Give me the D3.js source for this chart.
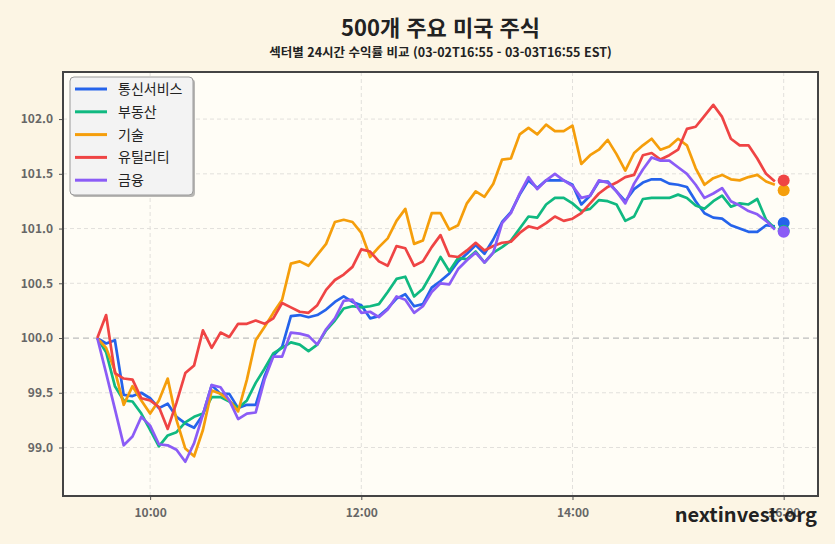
<!DOCTYPE html>
<html lang="ko">
<head>
<meta charset="UTF-8">
<title>500개 주요 미국 주식</title>
<script src="https://cdnjs.cloudflare.com/ajax/libs/d3/7.8.5/d3.min.js"></script>
<style>
  html, body { margin: 0; padding: 0; background: #fcf5e4; }
  svg { display: block; font-family: "Noto Sans CJK KR", "Noto Sans", sans-serif; }
</style>
</head>
<body>
<div id="chart"></div>
<script>
// 섹터 이름과 색상
const sectors = ['통신서비스', '부동산', '기술', '유틸리티', '금융']
const colors = ['#2563eb', '#10b981', '#f59e0b', '#ef4444', '#8b5cf6']

// 5분 간격, 09:30 ~ 15:55 (78개), 16:00 종가는 점으로 표시
const startTime = '09:30'
const stepMinutes = 5
const closeTime = '16:00'

const telecom = [
  100.00, 99.95, 99.98, 99.48, 99.47, 99.50, 99.45, 99.36, 99.40, 99.28,
  99.22, 99.18, 99.30, 99.57, 99.49, 99.49, 99.36, 99.39, 99.39, 99.65,
  99.84, 99.92, 100.20, 100.21, 100.19, 100.21, 100.26, 100.33, 100.38, 100.33,
  100.30, 100.18, 100.20, 100.27, 100.36, 100.40, 100.29, 100.31, 100.46, 100.52,
  100.59, 100.70, 100.77, 100.85, 100.77, 100.90, 101.06, 101.15, 101.31, 101.44,
  101.37, 101.44, 101.44, 101.44, 101.40, 101.22, 101.30, 101.43, 101.43, 101.34,
  101.25, 101.36, 101.42, 101.45, 101.45, 101.41, 101.40, 101.38, 101.25, 101.14,
  101.10, 101.09, 101.03, 101.00, 100.97, 100.97, 101.03, 101.02
]
const realEstate = [
  100.00, 99.87, 99.56, 99.43, 99.42, 99.31, 99.16, 99.01, 99.11, 99.14,
  99.23, 99.28, 99.31, 99.46, 99.46, 99.42, 99.36, 99.43, 99.59, 99.72,
  99.86, 99.91, 99.96, 99.94, 99.88, 99.94, 100.07, 100.16, 100.27, 100.29,
  100.28, 100.29, 100.31, 100.42, 100.54, 100.56, 100.38, 100.45, 100.59, 100.74,
  100.61, 100.73, 100.72, 100.79, 100.69, 100.78, 100.83, 100.89, 101.00, 101.11,
  101.10, 101.22, 101.28, 101.28, 101.23, 101.16, 101.18, 101.26, 101.25, 101.22,
  101.07, 101.11, 101.27, 101.28, 101.28, 101.28, 101.31, 101.28, 101.21, 101.18,
  101.25, 101.30, 101.20, 101.23, 101.22, 101.27, 101.08, 101.00
]
const tech = [
  100.00, 99.91, 99.70, 99.39, 99.56, 99.43, 99.31, 99.43, 99.63, 99.25,
  98.99, 98.92, 99.16, 99.52, 99.49, 99.43, 99.33, 99.62, 99.98, 100.10,
  100.23, 100.35, 100.68, 100.70, 100.66, 100.76, 100.86, 101.06, 101.08, 101.06,
  100.96, 100.74, 100.83, 100.91, 101.07, 101.18, 100.86, 100.89, 101.14, 101.14,
  100.99, 101.03, 101.23, 101.34, 101.29, 101.41, 101.63, 101.64, 101.86, 101.92,
  101.86, 101.95, 101.89, 101.89, 101.94, 101.59, 101.67, 101.72, 101.81, 101.68,
  101.53, 101.69, 101.76, 101.82, 101.72, 101.75, 101.82, 101.76, 101.55, 101.40,
  101.46, 101.49, 101.45, 101.44, 101.47, 101.49, 101.43, 101.40
]
const utilities = [
  100.00, 100.21, 99.68, 99.63, 99.62, 99.45, 99.43, 99.37, 99.17, 99.41,
  99.68, 99.75, 100.07, 99.91, 100.05, 100.01, 100.13, 100.13, 100.16, 100.13,
  100.18, 100.32, 100.28, 100.24, 100.23, 100.30, 100.44, 100.53, 100.58, 100.65,
  100.81, 100.79, 100.70, 100.66, 100.84, 100.82, 100.66, 100.70, 100.83, 100.94,
  100.75, 100.74, 100.80, 100.87, 100.80, 100.84, 100.87, 100.88, 100.96, 101.02,
  101.00, 101.05, 101.11, 101.07, 101.09, 101.14, 101.23, 101.32, 101.38, 101.42,
  101.47, 101.49, 101.67, 101.69, 101.63, 101.67, 101.72, 101.91, 101.93, 102.03,
  102.13, 102.02, 101.82, 101.76, 101.76, 101.64, 101.50, 101.43
]
const finance = [
  100.00, 99.68, 99.35, 99.02, 99.10, 99.28, 99.20, 99.03, 99.02, 98.98,
  98.87, 99.04, 99.30, 99.57, 99.55, 99.43, 99.26, 99.31, 99.32, 99.62,
  99.83, 99.83, 100.05, 100.04, 100.02, 99.94, 100.08, 100.18, 100.34, 100.35,
  100.23, 100.24, 100.19, 100.26, 100.38, 100.35, 100.23, 100.29, 100.42, 100.50,
  100.49, 100.63, 100.71, 100.78, 100.69, 100.78, 101.05, 101.14, 101.32, 101.47,
  101.36, 101.44, 101.50, 101.44, 101.39, 101.28, 101.30, 101.44, 101.42, 101.34,
  101.23, 101.41, 101.54, 101.65, 101.62, 101.62, 101.56, 101.50, 101.40, 101.28,
  101.32, 101.37, 101.25, 101.21, 101.16, 101.13, 101.07, 100.99
]
// 16:00 종가 (점)
const closeValues = [101.05, 100.98, 101.35, 101.44, 100.97]

const yTicks = [99.0, 99.5, 100.0, 100.5, 101.0, 101.5, 102.0]
const xTickLabels = ['10:00', '12:00', '14:00', '16:00']

const seriesValues = [telecom, realEstate, tech, utilities, finance]

// 시간 파싱
const parseTime = d3.timeParse('%Y-%m-%d %H:%M')
const day = '2025-03-03'
const t0 = parseTime(`${day} ${startTime}`)
const tClose = parseTime(`${day} ${closeTime}`)
const timeAt = i => d3.timeMinute.offset(t0, i * stepMinutes)

// 1. 크기
const width = 835
const height = 544
const margin = { top: 72, right: 17, bottom: 48, left: 63 }
const boundedWidth = width - margin.left - margin.right
const boundedHeight = height - margin.top - margin.bottom

const svg = d3.select('#chart').append('svg')
  .attr('width', width)
  .attr('height', height)

svg.append('rect')
  .attr('width', width).attr('height', height)
  .attr('fill', '#fcf5e4')

// 2. 스케일 (양쪽 5% 여백)
const xPad = 19.5
const xScale = d3.scaleTime()
  .domain([d3.timeSecond.offset(t0, -xPad * 60), d3.timeSecond.offset(tClose, xPad * 60)])
  .range([0, boundedWidth])
const yScale = d3.scaleLinear()
  .domain([98.557, 102.43])
  .range([boundedHeight, 0])

const bounds = svg.append('g')
  .attr('transform', `translate(${margin.left},${margin.top})`)

bounds.append('rect')
  .attr('width', boundedWidth).attr('height', boundedHeight)
  .attr('fill', '#fffdf6')

// 3. 격자
const xTickTimes = xTickLabels.map(s => parseTime(`${day} ${s}`))

bounds.append('g')
  .selectAll('line')
  .data(xTickTimes)
  .join('line')
    .attr('x1', d => xScale(d)).attr('x2', d => xScale(d))
    .attr('y1', 0).attr('y2', boundedHeight)
    .attr('stroke', '#e2e0dc')
    .attr('stroke-width', 1)
    .attr('stroke-dasharray', '4 3')

bounds.append('g')
  .selectAll('line')
  .data(yTicks.filter(d => d !== 100))
  .join('line')
    .attr('x1', 0).attr('x2', boundedWidth)
    .attr('y1', d => yScale(d)).attr('y2', d => yScale(d))
    .attr('stroke', '#e2e0dc')
    .attr('stroke-width', 1)
    .attr('stroke-dasharray', '4 3')

// 기준선 100
bounds.append('line')
  .attr('x1', 0).attr('x2', boundedWidth)
  .attr('y1', yScale(100)).attr('y2', yScale(100))
  .attr('stroke', '#bdbdbd')
  .attr('stroke-width', 1.2)
  .attr('stroke-dasharray', '6 4')

// 4. 선
const lineGenerator = d3.line()
  .x((d, i) => xScale(timeAt(i)))
  .y(d => yScale(d))

bounds.append('g')
  .selectAll('path')
  .data(seriesValues)
  .join('path')
    .attr('d', d => lineGenerator(d))
    .attr('fill', 'none')
    .attr('stroke', (d, i) => colors[i])
    .attr('stroke-width', 2.7)
    .attr('stroke-linejoin', 'round')

// 종가 점
bounds.append('g')
  .selectAll('circle')
  .data(closeValues)
  .join('circle')
    .attr('cx', xScale(tClose))
    .attr('cy', d => yScale(d))
    .attr('r', 6)
    .attr('fill', (d, i) => colors[i])

// 5. 축
const xAxis = bounds.append('g')
  .attr('transform', `translate(0,${boundedHeight})`)
  .call(d3.axisBottom(xScale).tickValues(xTickTimes).tickFormat(d3.timeFormat('%H:%M')).tickSize(4).tickPadding(6))
const yAxis = bounds.append('g')
  .call(d3.axisLeft(yScale).tickValues(yTicks).tickFormat(d3.format('.1f')).tickSize(4).tickPadding(6))

;[xAxis, yAxis].forEach(ax => {
  ax.select('.domain').remove()
  ax.selectAll('.tick line').attr('stroke', '#555')
  ax.selectAll('.tick text')
    .attr('fill', '#666')
    .style('font-size', '12px')
    .style('font-weight', 'bold')
    .style('font-family', '"Noto Sans CJK KR", sans-serif')
})
xAxis.selectAll('.tick text').attr('dy', '0.95em')

// 테두리
bounds.append('rect')
  .attr('width', boundedWidth).attr('height', boundedHeight)
  .attr('fill', 'none')
  .attr('stroke', '#444')
  .attr('stroke-width', 2)

// 6. 범례
const legend = bounds.append('g').attr('transform', 'translate(7,5)')
legend.append('rect')
  .attr('x', 2).attr('y', 2)
  .attr('width', 123).attr('height', 118)
  .attr('rx', 4)
  .attr('fill', '#888')
  .attr('opacity', 0.6)
legend.append('rect')
  .attr('width', 123).attr('height', 118)
  .attr('rx', 4)
  .attr('fill', '#f3f3f3')
  .attr('stroke', '#9a9a9a')
  .attr('stroke-width', 1)

const legendItems = legend.selectAll('g.item')
  .data(sectors)
  .join('g')
    .attr('class', 'item')
    .attr('transform', (d, i) => `translate(0,${12 + i * 22.8})`)
legendItems.append('line')
  .attr('x1', 5).attr('x2', 37)
  .attr('stroke', (d, i) => colors[i])
  .attr('stroke-width', 3)
legendItems.append('text')
  .attr('x', 48)
  .attr('dy', '0.35em')
  .text(d => d)
  .attr('fill', '#222')
  .style('font-size', '14px')

// 제목
svg.append('text')
  .attr('x', margin.left + boundedWidth / 2)
  .attr('y', 36)
  .attr('text-anchor', 'middle')
  .style('font-size', '22px')
  .style('font-weight', 'bold')
  .attr('fill', '#222')
  .text('500개 주요 미국 주식')

svg.append('text')
  .attr('x', margin.left + boundedWidth / 2)
  .attr('y', 57)
  .attr('text-anchor', 'middle')
  .style('font-size', '12.5px')
  .style('font-weight', 'bold')
  .attr('fill', '#222')
  .text('섹터별 24시간 수익률 비교 (03-02T16:55 - 03-03T16:55 EST)')

// 워터마크
svg.append('text')
  .attr('x', 817)
  .attr('y', 522)
  .attr('text-anchor', 'end')
  .style('font-size', '20px')
  .style('font-weight', 'bold')
  .attr('fill', '#222')
  .text('nextinvest.org')
</script>
</body>
</html>
